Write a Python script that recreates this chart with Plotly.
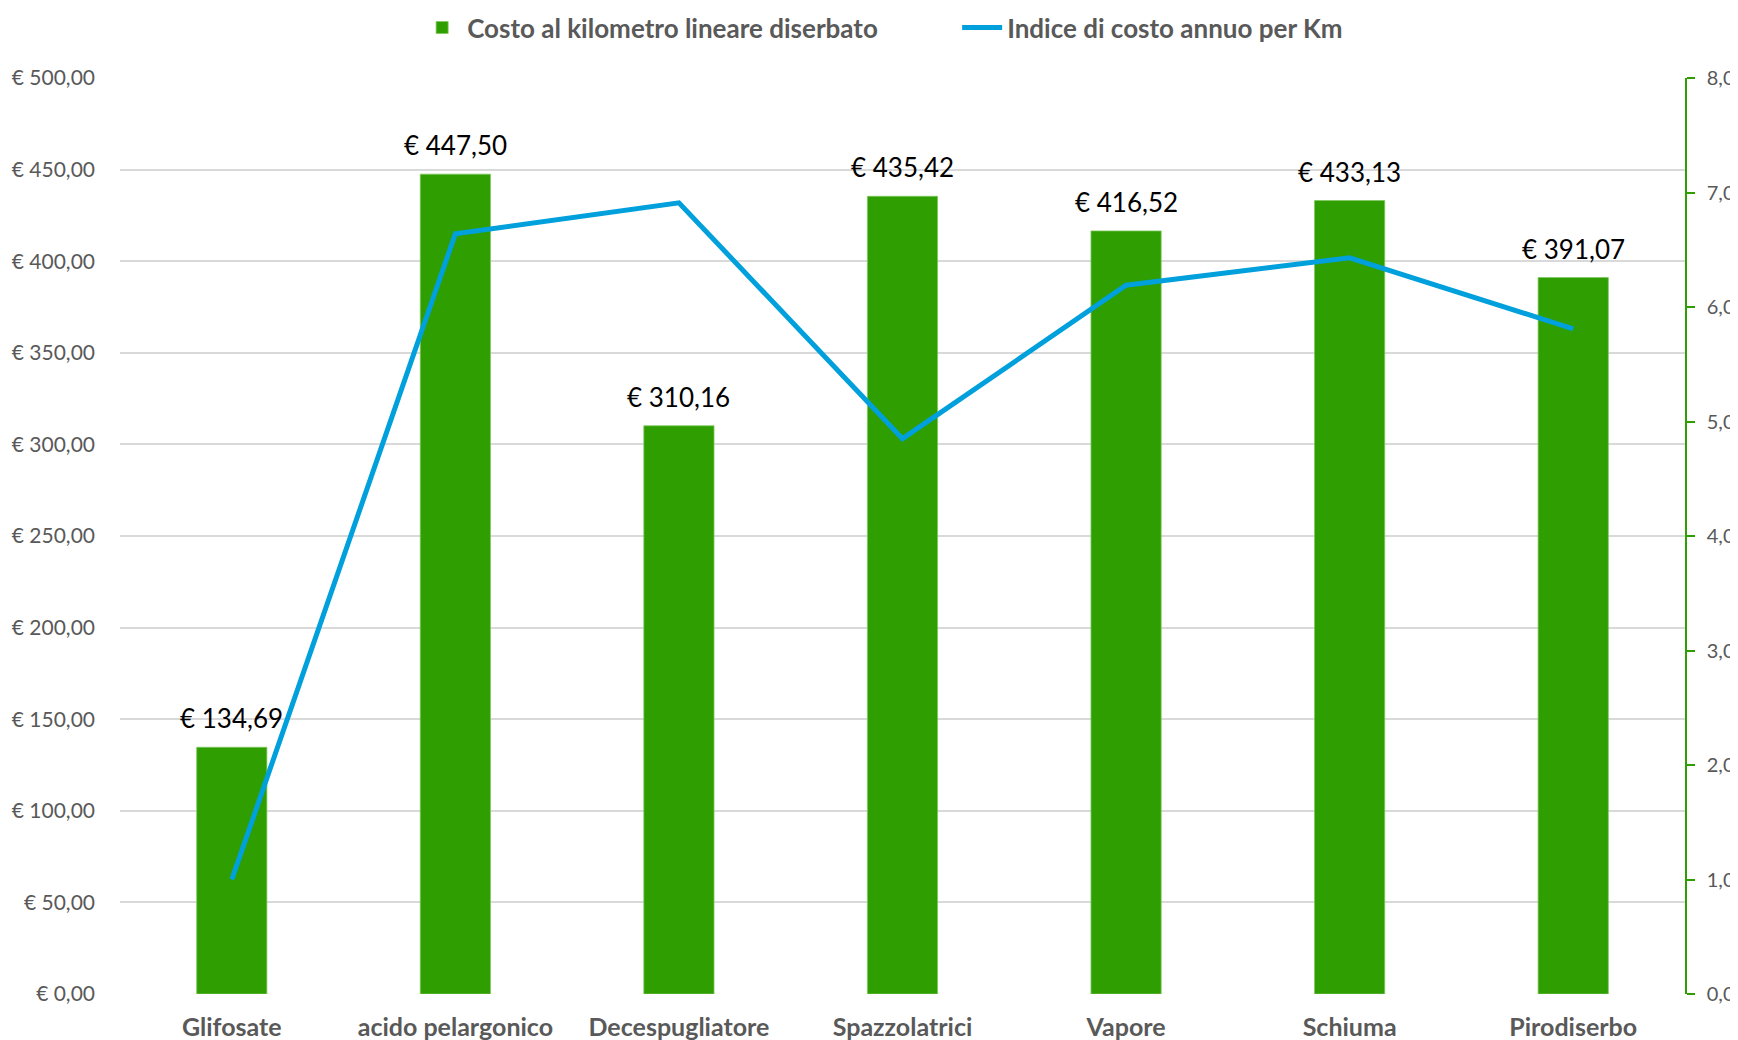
import plotly.graph_objects as go

categories = ["Glifosate", "acido pelargonico", "Decespugliatore", "Spazzolatrici", "Vapore", "Schiuma", "Pirodiserbo"]
costo_km = [134.69, 447.50, 310.16, 435.42, 416.52, 433.13, 391.07]
indice_costo = [1.0, 6.64, 6.91, 4.85, 6.19, 6.43, 5.81]
left_ticks = [0, 50, 100, 150, 200, 250, 300, 350, 400, 450, 500]
right_ticks = [0, 1, 2, 3, 4, 5, 6, 7, 8]

GREEN = "#2E9E00"
BLUE = "#00A0DC"
GRAY = "#595959"
FONT = "Lato"

fig = go.Figure()
fig.add_trace(go.Bar(
    x=categories, y=costo_km, name="Costo al kilometro lineare diserbato",
    marker=dict(color=GREEN, line=dict(color="#7FC860", width=0.8)),
    yaxis="y",
))
fig.add_trace(go.Scatter(
    x=categories, y=indice_costo, name="Indice di costo annuo per Km",
    mode="lines", line=dict(color=BLUE, width=5), yaxis="y2",
))

for c, v in zip(categories, costo_km):
    fig.add_annotation(
        x=c, y=v, xref="x", yref="y", text="€ " + f"{v:.2f}".replace(".", ","),
        showarrow=False, yanchor="bottom", yshift=11,
        font=dict(family=FONT, size=26, color="#000000"),
    )

fig.update_layout(
    width=1738, height=1040,
    paper_bgcolor="white", plot_bgcolor="white",
    margin=dict(l=112, r=61, t=70, b=54, autoexpand=False),
    separators=",.",
    bargap=0.686,
    font=dict(family=FONT, color=GRAY),
    legend=dict(
        orientation="h", xref="container", yref="paper",
        x=0.2354, xanchor="left", y=1.055, yanchor="middle",
        font=dict(family=FONT, size=26, color=GRAY, weight="bold"),
        itemwidth=40, traceorder="normal",
        entrywidth=485, entrywidthmode="pixels",
    ),
    xaxis=dict(
        tickfont=dict(family=FONT, size=25, color=GRAY, weight="bold"),
        showgrid=False, showline=False, ticks="",
        ticklabelstandoff=16,
    ),
    yaxis=dict(
        range=[0, 500], tickvals=left_ticks,
        ticktext=["€ " + f"{t:.2f}".replace(".", ",") for t in left_ticks],
        tickfont=dict(family=FONT, size=21, color=GRAY),
        showgrid=True, gridcolor="#D9D9D9", gridwidth=1.5,
        zeroline=False, showline=False, ticks="",
        ticklabelstandoff=24,
    ),
    yaxis2=dict(
        range=[0, 8], tickvals=right_ticks, overlaying="y", side="right",
        ticktext=[f"{t:.1f}".replace(".", ",") for t in right_ticks],
        tickfont=dict(family=FONT, size=20, color=GRAY),
        showgrid=False, zeroline=False,
        showline=True, linecolor=GREEN, linewidth=1.5,
        ticks="outside", ticklen=8, tickcolor=GREEN, tickwidth=1.5,
        ticklabelstandoff=8,
    ),
    showlegend=True,
)

fig.write_html("out.html")
